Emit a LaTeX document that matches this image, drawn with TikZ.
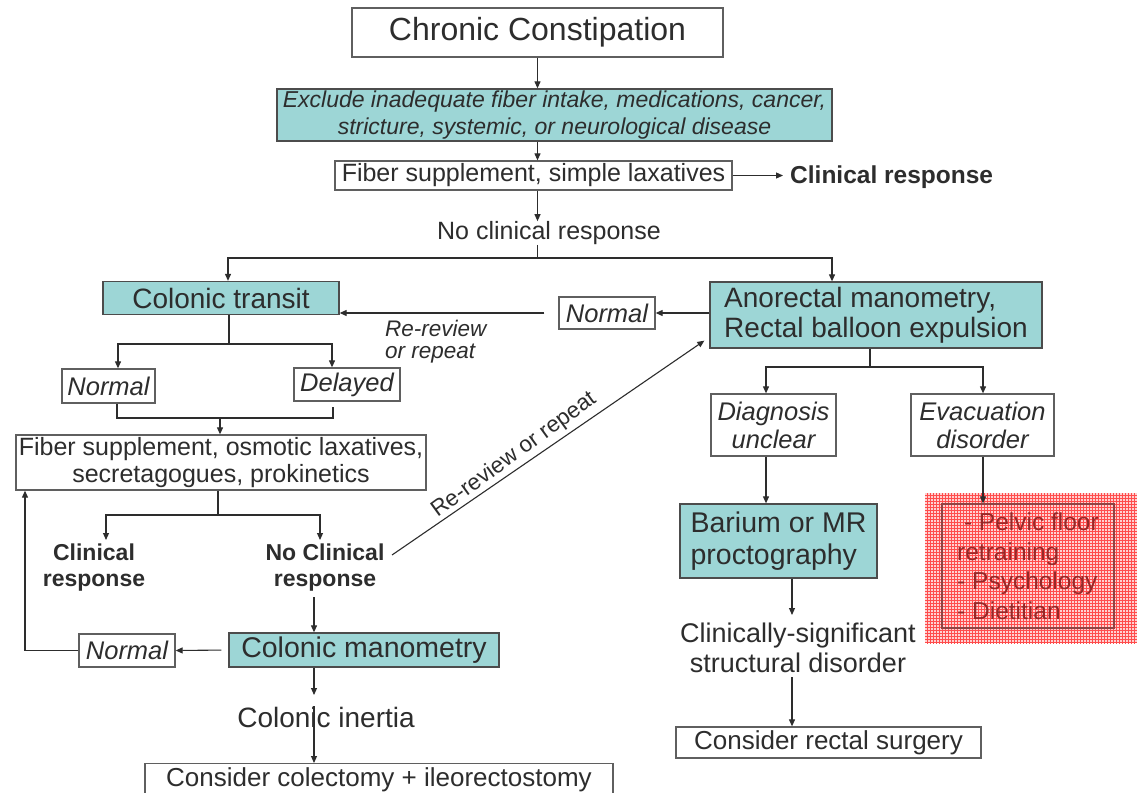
\documentclass[tikz,border=0pt]{standalone}
\usepackage{fontspec}
\setmainfont{Liberation Sans}
\usetikzlibrary{arrows.meta,patterns}
\definecolor{teal1}{RGB}{157,214,214}
\definecolor{ink}{RGB}{45,45,45}
\definecolor{edge}{RGB}{95,95,95}
\definecolor{redtxt}{RGB}{150,40,40}
\newcommand{\myfs}[2]{\fontsize{#1}{#2}\selectfont}
\begin{document}
\begin{tikzpicture}[x=1pt,y=-1pt,
  box/.style={draw=edge,line width=1.3pt,fill=white,text=ink,inner sep=0pt,align=center},
  tbox/.style={box,fill=teal1,draw=edge!80!black},
  txt/.style={text=ink,inner sep=0pt,align=center},
  arr/.style={draw=ink,line width=1.1pt,-{Triangle[length=7pt,width=6pt]}},
  ln/.style={draw=ink,line width=1.1pt}]
\useasboundingbox (0,0) rectangle (1137,792);
\fill[white] (0,0) rectangle (1137,792);

% ---- top
\node[box,minimum width=371pt,minimum height=49pt,font=\myfs{32}{36}] (title) at (537.5,32.5) {Chronic Constipation};
\node[tbox,minimum width=555pt,minimum height=52pt,font=\myfs{23}{27}\itshape] (excl) at (554.5,115) {Exclude inadequate fiber intake, medications, cancer,\\stricture, systemic, or neurological disease};
\node[box,minimum width=397pt,minimum height=29pt,font=\myfs{25}{28}] (fib1) at (533.5,175.5) {Fiber supplement, simple laxatives};
\node[txt,anchor=west,font=\myfs{24.5}{28}\bfseries] (cr1) at (790,177) {Clinical response};
\node[txt,font=\myfs{25}{28}] (ncr) at (549,233) {No clinical response};
\coordinate (br1) at (537.5,258);

\draw[arr] (title.south) -- (title.south |- excl.north);
\draw[arr] (excl.south -| title.south) -- (title.south |- fib1.north);
\draw[arr,shorten >=7pt] (fib1.east) -- (fib1.east -| cr1.west);
\draw[arr] (fib1.south -| title.south) -- (title.south |- ncr.north);
\draw[ln] (ncr.south -| br1) -- (br1);

% ---- second level
\node[tbox,minimum width=236pt,minimum height=33pt,font=\myfs{28}{30}] (ct) at (221,298) {Colonic transit};
\node[tbox,minimum width=332pt,minimum height=66pt,font=\myfs{28}{30},align=left] (ano) at (876,315) {Anorectal manometry,\\Rectal balloon expulsion};
\draw[arr] (br1) -| ([xshift=7pt]ct.north);
\draw[arr] (br1) -| ([xshift=-44pt]ano.north);

\node[box,minimum width=96pt,minimum height=32pt,font=\myfs{25.5}{28}\itshape] (n1) at (607,313) {Normal};
\draw[arr] (ano.west |- n1.east) -- (n1.east);
\draw[arr,shorten <=14pt] (n1.west) -- (ct.east |- n1.west);
\node[txt,anchor=north west,align=left,font=\myfs{22.5}{22}\itshape] (rr1) at (385,320) {Re-review\\or repeat};

% ---- colonic transit branch
\coordinate (b2) at (229,344);
\node[box,minimum width=93pt,minimum height=34pt,font=\myfs{25.5}{28}\itshape] (nL) at (108.5,386) {Normal};
\node[box,minimum width=106pt,minimum height=33pt,font=\myfs{25.5}{28}\itshape] (dl) at (347,384.5) {Delayed};
\draw[ln] (ct.south -| b2) -- (b2);
\draw[arr] (b2) -| ([xshift=9.5pt]nL.north);
\draw[arr] (b2) -| ([xshift=-15pt]dl.north);

\coordinate (m1) at (117,418);
\coordinate (m2) at (333,418);
\coordinate (m3) at (220,418);
\draw[ln] (nL.south -| m1) -- (m1) -- (m2) -- ++(0,-11);

\node[box,minimum width=410pt,minimum height=55pt,font=\myfs{25}{27}] (f2) at (221,462.5) {Fiber supplement, osmotic laxatives,\\secretagogues, prokinetics};
\draw[arr] (m3) -- (f2.north -| m3);

\coordinate (b3) at (218,515);
\node[txt,font=\myfs{23}{26}\bfseries] (cr2) at (94,568) {Clinical\\response};
\node[txt,font=\myfs{23}{26}\bfseries] (ncr2) at (325,568) {No Clinical\\response};
\draw[ln] (f2.south -| b3) -- (b3);
\draw[arr] (b3) -| (106,540);
\draw[arr] (b3) -| (320,540);

% diagonal re-review
\coordinate (dg0) at (392,555);
\draw[arr] (dg0) -- ([xshift=-5pt,yshift=8pt]ano.south west);
\node[txt,rotate=36,font=\myfs{22.5}{24}] (rr2) at (514,455) {Re-review or repeat};

% ---- colonic manometry
\node[tbox,minimum width=270pt,minimum height=34pt,font=\myfs{28.5}{30}] (cm) at (364,650) {Colonic manometry};
\node[box,minimum width=96pt,minimum height=33pt,font=\myfs{25.5}{28}\itshape] (nB) at (127,650.5) {Normal};
\draw[arr] (314,597) -- (cm.north -| 314,0);
\draw[arr,shorten <=7pt] (cm.west) -- (nB.east);
\draw[arr] (nB.west) -| (f2.south -| 25,0);

\node[txt,font=\myfs{28}{30}] (ci) at (326,717) {Colonic inertia};
\draw[arr] (cm.south -| 314,0) -- (314,695);
\node[box,minimum width=468pt,minimum height=33pt,font=\myfs{26}{28},anchor=north] (bot) at (379,763) {Consider colectomy + ileorectostomy};
\draw[arr] (314,706) -- (bot.north -| 314,0);

% ---- anorectal branch
\coordinate (b4) at (870,367);
\node[box,minimum width=125pt,minimum height=62pt,font=\myfs{25.5}{28}\itshape] (dg) at (773.5,425) {Diagnosis\\unclear};
\node[box,minimum width=143pt,minimum height=62pt,font=\myfs{25.5}{28}\itshape] (ev) at (982.5,425) {Evacuation\\disorder};
\draw[ln] (ano.south -| b4) -- (b4);
\draw[arr] (b4) -| (dg.north -| 766,0);
\draw[arr] (b4) -| (ev.north -| 983,0);

\node[tbox,minimum width=197pt,minimum height=74pt,font=\myfs{28.5}{32},align=left] (ba) at (778.5,541) {Barium or MR\\proctography};
\draw[arr] (dg.south -| 766,0) -- (ba.north -| 766,0);

% red hatched area
\fill[red!18] (925,493) rectangle (1137,643);
\fill[pattern=grid,pattern color=red!70] (925,493) rectangle (1137,643);
\node[draw=edge!70!red,line width=1.3pt,inner sep=0pt,minimum width=172pt,minimum height=124pt,align=left,text=redtxt,font=\myfs{24.5}{29.5}] (pf) at (1028,566) {\ - Pelvic floor\\retraining\\- Psychology\\- Dietitian};
\draw[arr] (ev.south -| 983,0) -- (pf.north -| 983,0);

\node[txt,font=\myfs{27}{30}] (cs) at (798,648) {Clinically-significant\\structural disorder};
\draw[arr] (ba.south -| 792,0) -- (792,615);
\node[box,minimum width=305pt,minimum height=31pt,font=\myfs{26}{28}] (rs) at (828.5,742.5) {Consider rectal surgery};
\draw[arr] (792,677) -- (rs.north -| 792,0);
\end{tikzpicture}
\end{document}
